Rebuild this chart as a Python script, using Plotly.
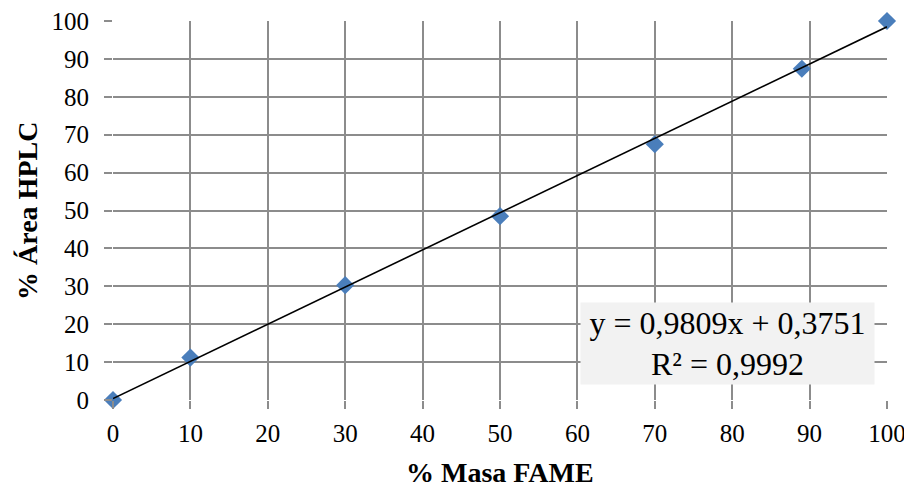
import plotly.graph_objects as go

x_vals = [0, 10, 30, 50, 70, 89, 100]
y_vals = [0, 11.2, 30.3, 48.5, 67.5, 87.4, 100]
slope = 0.9809
intercept = 0.3751
trend_x = [0, 100]
trend_y = [slope * v + intercept for v in trend_x]
tick_vals = list(range(0, 101, 10))

font_family = "Liberation Serif"

fig = go.Figure()
fig.add_trace(go.Scatter(
    x=x_vals, y=y_vals, mode="markers",
    marker=dict(symbol="diamond", size=14, color="#4a7ebb", line=dict(width=0)),
    showlegend=False, cliponaxis=False,
))
fig.add_trace(go.Scatter(
    x=trend_x, y=trend_y, mode="lines",
    line=dict(color="black", width=1.6),
    showlegend=False, cliponaxis=False,
))

fig.add_annotation(
    x=79.4, y=14.8, xref="x", yref="y",
    text="y = 0,9809x + 0,3751<br>R² = 0,9992",
    showarrow=False, align="center",
    font=dict(family=font_family, size=32, color="black"),
    bgcolor="#f2f2f2", width=293, height=81, borderpad=0,
)

# axis titles
fig.add_annotation(
    x=-0.1105, y=0.5, xref="paper", yref="paper",
    text="<b>% Área HPLC</b>", textangle=-90, showarrow=False,
    xanchor="center", yanchor="middle",
    font=dict(family=font_family, size=28, color="black"),
)
fig.add_annotation(
    x=0.5, y=-0.19, xref="paper", yref="paper",
    text="<b>% Masa FAME</b>", showarrow=False,
    xanchor="center", yanchor="middle",
    font=dict(family=font_family, size=28, color="black"),
)

axis_common = dict(
    range=[0, 100], tickvals=tick_vals, showgrid=True,
    gridcolor="#8c8c8c", gridwidth=1.5,
    ticks="outside", ticklen=8, tickcolor="#8c8c8c", tickwidth=1.5,
    showline=False, zeroline=False, automargin=False,
    ticklabeloverflow="allow",
    tickfont=dict(family=font_family, size=25, color="black"),
)

fig.update_xaxes(**axis_common, ticklabelstandoff=3)
fig.update_yaxes(**axis_common, ticklabelstandoff=10)

# page body has an 8px margin, so the figure is sized/offset to compensate
fig.update_layout(
    width=904, height=481,
    margin=dict(l=105, r=25, t=13, b=89),
    plot_bgcolor="white", paper_bgcolor="white",
    font=dict(family=font_family, color="black"),
)

fig.write_html("out.html")
